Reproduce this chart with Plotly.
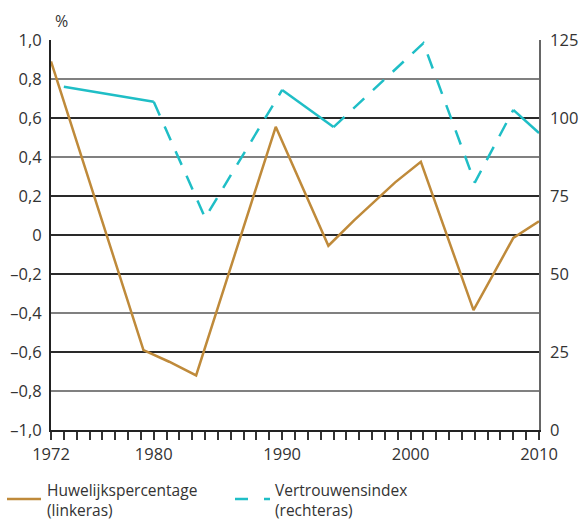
import plotly.graph_objects as go

# ---- data ----
marriage_years = [1972, 1979.2, 1981.2, 1983.3, 1989.5, 1993.6, 1995.6, 1998.8, 2000.8, 2004.9, 2008.0, 2010]
marriage_values = [0.89, -0.59, -0.65, -0.72, 0.555, -0.055, 0.075, 0.27, 0.375, -0.385, -0.015, 0.07]

trust_years = [1973, 1980, 1984, 1990, 1994, 2001, 2005, 2008, 2010]
trust_values = [110, 105.2, 68, 109, 97.1, 124, 79.3, 102.6, 95.2]
# style of each segment between consecutive points (True = dashed)
trust_segment_dashed = [False, True, True, False, True, True, True, False]

left_tick_vals = [1.0, 0.8, 0.6, 0.4, 0.2, 0, -0.2, -0.4, -0.6, -0.8, -1.0]
left_tick_text = ["1,0", "0,8", "0,6", "0,4", "0,2", "0", "\u20130,2", "\u20130,4", "\u20130,6", "\u20130,8", "\u20131,0"]
right_tick_vals = [0, 25, 50, 75, 100, 125]
right_tick_text = ["0", "25", "50", "75", "100", "125"]
x_labeled = {1972: "1972", 1980: "1980", 1990: "1990", 2000: "2000", 2010: "2010"}

series_names = ["Huwelijkspercentage<br>(linkeras)", "Vertrouwensindex<br>(rechteras)"]

ORANGE = "#BF8A3A"
CYAN = "#1FBEC6"
FONT = "Open Sans"
FS = 16.5

fig = go.Figure()

fig.add_trace(go.Scatter(x=marriage_years, y=marriage_values, mode="lines",
                         line=dict(color=ORANGE, width=2.5), showlegend=False, yaxis="y"))

# build runs of consecutive segments with same style
runs = []
start = 0
for i in range(1, len(trust_segment_dashed) + 1):
    if i == len(trust_segment_dashed) or trust_segment_dashed[i] != trust_segment_dashed[start]:
        runs.append((start, i, trust_segment_dashed[start]))
        start = i
for s, e, dashed in runs:
    fig.add_trace(go.Scatter(x=trust_years[s:e + 1], y=trust_values[s:e + 1], mode="lines",
                             line=dict(color=CYAN, width=2.5, dash="15px,12px" if dashed else "solid"),
                             showlegend=False, yaxis="y2"))

x_years = list(range(1972, 2011))
fig.update_layout(
    width=579, height=521,
    margin=dict(l=51, r=40, t=40, b=91, autoexpand=False),
    paper_bgcolor="white", plot_bgcolor="white",
    font=dict(family=FONT, size=FS, color="#333333"),
    showlegend=False,
    xaxis=dict(range=[1972, 2010], tickvals=x_years, automargin=False,
               ticktext=[x_labeled.get(y, "") for y in x_years],
               ticks="outside", ticklen=8, tickwidth=1.5, tickcolor="#333333",
               showline=True, linecolor="#222222", linewidth=2, showgrid=False,
               zeroline=False, tickfont=dict(size=FS, color="#333333")),
    yaxis=dict(range=[-1.0, 1.0], tickvals=left_tick_vals, ticktext=left_tick_text, automargin=False,
               showline=True, linecolor="#222222", linewidth=2,
               showgrid=True, gridcolor="#808080", gridwidth=1.5,
               zeroline=True, zerolinecolor="#2a2a2a", zerolinewidth=2,
               ticks="", ticklabelstandoff=4, tickfont=dict(size=FS, color="#333333")),
    yaxis2=dict(range=[0, 125], tickvals=right_tick_vals, ticktext=right_tick_text, automargin=False,
                overlaying="y", side="right", showline=True, linecolor="#666666", linewidth=1.5,
                showgrid=True, gridcolor="#2a2a2a", gridwidth=2, zeroline=False,
                ticks="", ticklabelstandoff=6, tickfont=dict(size=FS, color="#333333")),
)

fig.add_annotation(text="%", xref="paper", yref="paper", x=(53 - 51) / 488, y=(430 - 8) / 390,
                   xanchor="left", yanchor="top", showarrow=False, font=dict(size=16, color="#333333"))

# legend (drawn manually)
ly = (430 - 499) / 390
fig.add_shape(type="line", xref="paper", yref="paper", x0=(7 - 51) / 488, x1=(41 - 51) / 488,
              y0=ly, y1=ly, line=dict(color=ORANGE, width=2.5))
fig.add_shape(type="line", xref="paper", yref="paper", x0=(235 - 51) / 488, x1=(270 - 51) / 488,
              y0=ly, y1=ly, line=dict(color=CYAN, width=2.5, dash="13px,16px"))
for name, px in zip(series_names, [46, 274]):
    fig.add_annotation(text=name, xref="paper", yref="paper", x=(px - 51) / 488, y=(430 - 478) / 390,
                       xanchor="left", yanchor="top", align="left", showarrow=False, borderpad=0,
                       font=dict(size=15.5, color="#333333"))

fig.write_html("out.html", config={"displayModeBar": False},
               post_script="document.body.style.margin='0';")
